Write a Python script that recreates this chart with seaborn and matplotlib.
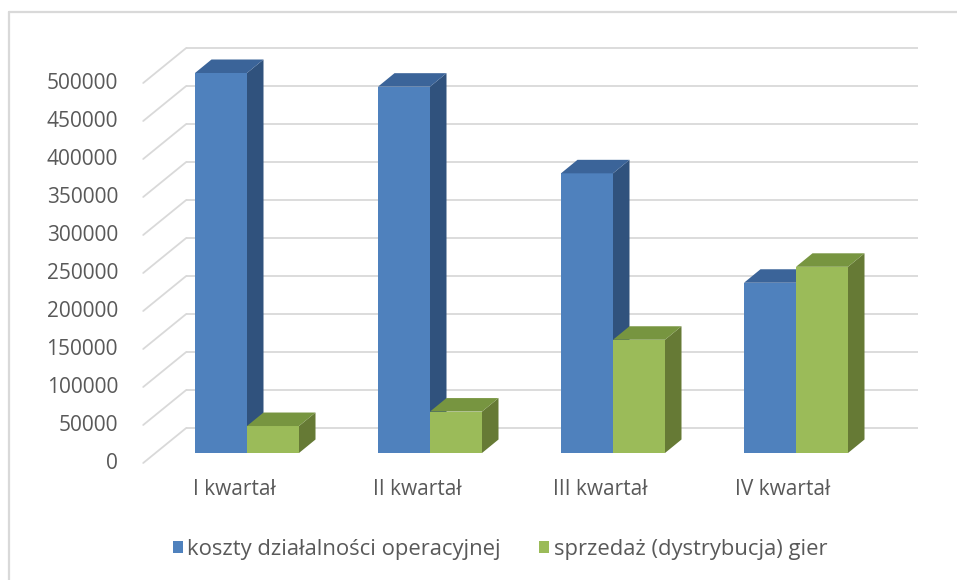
import numpy as np
import pandas as pd
import matplotlib
matplotlib.use("Agg")
import matplotlib.pyplot as plt
import seaborn as sns
from matplotlib.patches import Polygon, Rectangle
from matplotlib.lines import Line2D
from matplotlib.transforms import ScaledTranslation

# ---- data ----
categories = ["I kwartał", "II kwartał", "III kwartał", "IV kwartał"]
series_names = ["koszty działalności operacyjnej", "sprzedaż (dystrybucja) gier"]
koszty = [500000, 482000, 368000, 224000]
sprzedaz = [35500, 54500, 149000, 245000]
yticks = list(range(0, 500001, 50000))

df = pd.DataFrame({
    "kwartał": categories * 2,
    "wartość": koszty + sprzedaz,
    "seria": [series_names[0]] * len(categories) + [series_names[1]] * len(categories),
})

# ---- style ----
sns.set_style("white")
plt.rcParams["font.family"] = ["Open Sans", "DejaVu Sans"]
TXT = "#595959"
GRID = "#d9d9d9"
front_cols = ["#4F81BD", "#9BBB59"]
side_cols = ["#30527D", "#667A35"]
top_cols = ["#3B6499", "#779540"]

W, H, DPI = 957, 580, 100
fig = plt.figure(figsize=(W / DPI, H / DPI), dpi=DPI)
ax_l, ax_r, ax_b, ax_t = 155.5, 887.5, 453, 73
ax = fig.add_axes([ax_l / W, (H - ax_b) / H, (ax_r - ax_l) / W, (ax_b - ax_t) / H])

sns.barplot(data=df, x="kwartał", y="wartość", hue="seria", order=categories,
            hue_order=series_names, palette=front_cols, saturation=1,
            width=104 / 183, gap=0, legend=False, ax=ax, linewidth=0)

ax.set_xlim(-0.5, len(categories) - 0.5)
ax.set_ylim(0, 500000)
px_x = (len(categories)) / (ax_r - ax_l)
px_y = 500000 / (ax_b - ax_t)

# depth geometry (pixels)
back_dx, back_dy = 30.7, 25.0
front_dx, front_dy = -12.3, -10.0
bar_dx, bar_dy = 16.5, 13.5

# back wall gridlines + left wall oblique lines
x0g, x1g = ax.get_xlim()
for v in yticks:
    ax.plot([x0g + back_dx * px_x, x1g + back_dx * px_x],
            [v + back_dy * px_y] * 2, color=GRID, lw=1.3, zorder=0.5,
            clip_on=False, solid_capstyle="butt")
    ax.plot([x0g + front_dx * px_x, x0g + back_dx * px_x],
            [v + front_dy * px_y, v + back_dy * px_y], color=GRID, lw=1.3,
            zorder=0.5, clip_on=False)

# 3D faces derived from seaborn's bars
blue_rgb = np.array(matplotlib.colors.to_rgb(front_cols[0]))
for p in list(ax.patches):
    x0, w, h = p.get_x(), p.get_width(), p.get_height()
    idx = 0 if np.allclose(p.get_facecolor()[:3], blue_rgb, atol=0.02) else 1
    p.set_zorder(2 + idx * 2)
    p.set_clip_on(False)
    ddx, ddy = bar_dx * px_x, bar_dy * px_y
    side = Polygon([(x0 + w, 0), (x0 + w + ddx, ddy), (x0 + w + ddx, h + ddy), (x0 + w, h)],
                   closed=True, facecolor=side_cols[idx], edgecolor="none",
                   zorder=2.5 + idx * 2, clip_on=False)
    top = Polygon([(x0, h), (x0 + ddx, h + ddy), (x0 + w + ddx, h + ddy), (x0 + w, h)],
                  closed=True, facecolor=top_cols[idx], edgecolor="none",
                  zorder=2.5 + idx * 2, clip_on=False)
    ax.add_patch(side)
    ax.add_patch(top)

for s in ax.spines.values():
    s.set_visible(False)
ax.set_xlabel("")
ax.set_ylabel("")
ax.set_yticks(yticks)
ax.set_yticklabels([str(v) for v in yticks])
ax.tick_params(axis="y", length=0, pad=27, labelsize=15, labelcolor=TXT)
ax.tick_params(axis="x", length=0, pad=18.5, labelsize=15, labelcolor=TXT)
ax.grid(False)

for lab in ax.get_yticklabels():
    lab.set_transform(lab.get_transform() + ScaledTranslation(0, -8 / DPI, fig.dpi_scale_trans))
for lab in ax.get_xticklabels():
    lab.set_transform(lab.get_transform() + ScaledTranslation(-13 / DPI, 0, fig.dpi_scale_trans))

# legend
handles = [Rectangle((0, 0), 1, 1, facecolor=c, edgecolor="none") for c in front_cols]
fig.legend(handles=handles, labels=series_names, loc="center",
           bbox_to_anchor=(500 / W, 1 - 549 / H), ncol=2, frameon=False,
           fontsize=15.8, handlelength=0.45, handleheight=0.45, handletextpad=0.2,
           columnspacing=1.75, labelcolor=TXT)

# outer chart frame (top and left visible)
fig.add_artist(Line2D([9 / W, 1], [1 - 12 / H, 1 - 12 / H], transform=fig.transFigure,
                      color="#d9d9d9", lw=1.6))
fig.add_artist(Line2D([9 / W, 9 / W], [0, 1 - 12 / H], transform=fig.transFigure,
                      color="#d9d9d9", lw=1.6))

fig.savefig("out.png", dpi=DPI)
